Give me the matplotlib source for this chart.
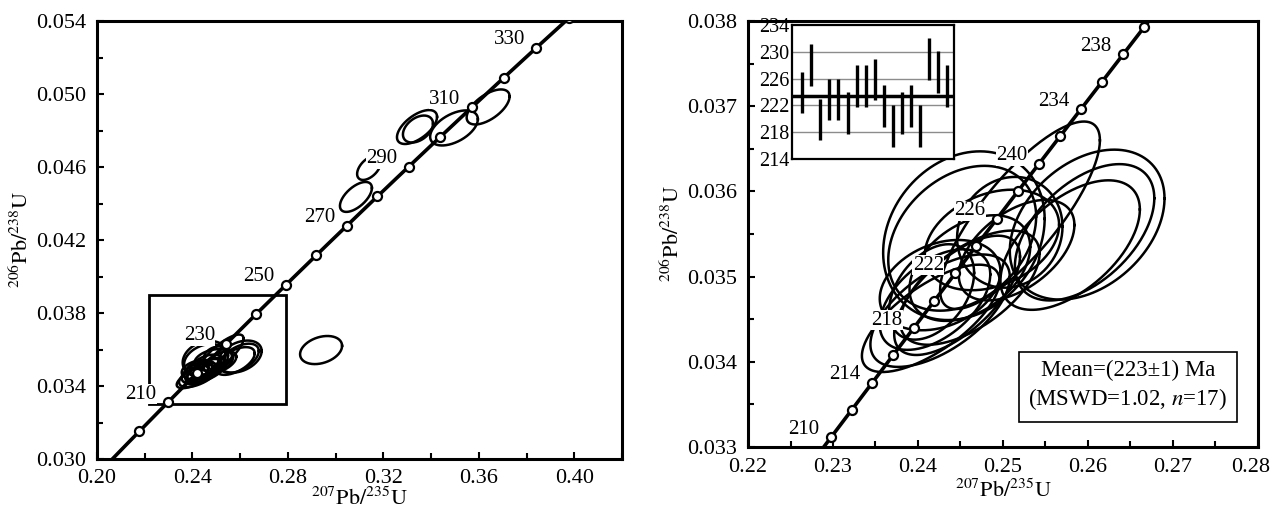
import numpy as np
import matplotlib
matplotlib.use("Agg")
import matplotlib.pyplot as plt
import matplotlib.transforms as mtransforms
from matplotlib.ticker import MultipleLocator
from matplotlib.patches import Rectangle

plt.rcParams["font.family"] = ["Liberation Serif", "DejaVu Serif"]
plt.rcParams["mathtext.fontset"] = "stix"
plt.rcParams["font.size"] = 15

# U decay constants (1/yr)
LAMBDA_238 = 1.55125e-10
LAMBDA_235 = 9.8485e-10

# zircon analyses of this study: 207Pb/235U, 206Pb/238U, half-extent x, half-extent y, rho
ell_x = [0.2454, 0.2452, 0.2599, 0.2596, 0.2579, 0.2520, 0.2508, 0.2415, 0.2426,
         0.2420, 0.2461, 0.2461, 0.2426, 0.2487, 0.2416, 0.2516, 0.2446]
ell_y = [0.03548, 0.03545, 0.03561, 0.03552, 0.03537, 0.03572, 0.03552, 0.03451, 0.03460,
         0.03473, 0.03487, 0.03510, 0.03490, 0.03543, 0.03482, 0.03531, 0.03478]
ell_sx = [0.0095, 0.0087, 0.0091, 0.0082, 0.0082, 0.0094, 0.0062, 0.0081, 0.0082,
          0.0065, 0.0082, 0.0071, 0.0071, 0.0079, 0.0050, 0.0068, 0.0074]
ell_sy = [0.00099, 0.00085, 0.00088, 0.00080, 0.00076, 0.00110, 0.00065, 0.00063, 0.00066,
          0.00059, 0.00067, 0.00062, 0.00053, 0.00059, 0.00056, 0.00059, 0.00070]
ell_rho = [0.2, 0.3, 0.35, 0.5, 0.55, 0.8, 0.1, 0.7, 0.6,
           0.5, 0.6, 0.4, 0.3, 0.3, 0.4, 0.5, 0.65]

# older / discordant grains (left panel only)
old_x = [0.2939, 0.3085, 0.3140, 0.3341, 0.3345, 0.3496, 0.3639]
old_y = [0.03597, 0.04436, 0.04595, 0.04819, 0.04808, 0.04814, 0.04929]
old_sx = [0.0088, 0.0067, 0.0050, 0.0084, 0.0063, 0.0100, 0.0090]
old_sy = [0.00077, 0.00082, 0.00066, 0.00093, 0.00074, 0.00096, 0.00096]
old_rho = [0.3, 0.6, 0.5, 0.6, 0.4, 0.5, 0.6]

# concordia age marks
left_marks = list(range(200, 350, 10))
left_label_ages = [210, 230, 250, 270, 290, 310, 330]
right_marks = list(range(208, 244, 2))
right_label_ages = [210, 214, 218, 222, 226, 230, 234, 238]
right_label_text = ["210", "214", "218", "222", "226", "240", "234", "238"]

# axis ticks
left_xticks = [0.20, 0.24, 0.28, 0.32, 0.36, 0.40]
left_yticks = [0.030, 0.034, 0.038, 0.042, 0.046, 0.050, 0.054]
right_xticks = [0.22, 0.23, 0.24, 0.25, 0.26, 0.27, 0.28]
right_yticks = [0.033, 0.034, 0.035, 0.036, 0.037, 0.038]

# zoom window drawn on the left panel
zoom_box = [0.222, 0.033, 0.279, 0.039]

# weighted mean inset: 206Pb/238U ages (Ma) and errors
wm_age = [223.9, 228.0, 219.9, 222.9, 222.9, 220.9, 224.9, 224.9, 225.9,
          221.9, 218.9, 220.9, 221.9, 218.9, 228.9, 227.0, 224.9]
wm_err = [3.1] * 17
wm_mean = 223.4
wm_ticks = [214, 218, 222, 226, 230, 234]


def concordia(t_ma):
    t = np.asarray(t_ma, dtype=float) * 1e6
    return np.exp(LAMBDA_235 * t) - 1, np.exp(LAMBDA_238 * t) - 1


def draw_ellipses(ax, xs, ys, sxs, sys_, rhos):
    th = np.linspace(0, 2 * np.pi, 240)
    for x, y, sx, sy, r in zip(xs, ys, sxs, sys_, rhos):
        ex = x + sx * np.cos(th)
        ey = y + sy * (r * np.cos(th) + np.sqrt(1 - r * r) * np.sin(th))
        ax.plot(ex, ey, color="black", lw=1.8, zorder=2)


def draw_concordia(ax, marks, label_ages, label_text):
    cx, cy = concordia(np.linspace(150, 420, 600))
    ax.plot(cx, cy, color="black", lw=2.6, zorder=4)
    mx, my = concordia(marks)
    ax.plot(mx, my, "o", ms=6.5, mfc="white", mec="black", mew=1.6, zorder=5)
    lx, ly = concordia(label_ages)
    for x, y, s in zip(lx, ly, label_text):
        ax.annotate(s, (x, y), xytext=(-27, 8), textcoords="offset pixels",
                    ha="center", va="center", fontsize=15, zorder=6,
                    bbox=dict(fc="white", ec="none", pad=0.3))


def style_axes(ax):
    for sp in ax.spines.values():
        sp.set_linewidth(2.2)
    ax.tick_params(which="both", direction="in", width=1.5, labelsize=16, pad=8)
    ax.tick_params(which="major", length=5)
    ax.tick_params(which="minor", length=4)


xlab = r"$^{207}\mathrm{Pb}/^{235}\mathrm{U}$"
ylab = r"$^{206}\mathrm{Pb}/^{238}\mathrm{U}$"

fig = plt.figure(figsize=(12.72, 5.08), dpi=100)

# ---- left panel: all analyses
ax1 = fig.add_axes([97 / 1272, 49 / 508, 525 / 1272, 438 / 508])
draw_ellipses(ax1, ell_x, ell_y, ell_sx, ell_sy, ell_rho)
draw_ellipses(ax1, old_x, old_y, old_sx, old_sy, old_rho)
draw_concordia(ax1, left_marks, left_label_ages, [str(a) for a in left_label_ages])
ax1.add_patch(Rectangle((zoom_box[0], zoom_box[1]), zoom_box[2] - zoom_box[0],
                        zoom_box[3] - zoom_box[1], fill=False, lw=2, zorder=3))
ax1.set_xlim(0.20, 0.42)
ax1.set_ylim(0.030, 0.054)
ax1.set_xticks(left_xticks)
ax1.set_yticks(left_yticks)
ax1.xaxis.set_minor_locator(MultipleLocator(0.02))
ax1.yaxis.set_minor_locator(MultipleLocator(0.002))
ax1.xaxis.set_major_formatter(plt.FormatStrFormatter("%.2f"))
ax1.yaxis.set_major_formatter(plt.FormatStrFormatter("%.3f"))
ax1.set_xlabel(xlab, fontsize=16, labelpad=0)
ax1.set_ylabel(ylab, fontsize=16, labelpad=2)
style_axes(ax1)
ax1.tick_params(axis="x", pad=7)

# ---- right panel: zoom on the 223 Ma population
ax2 = fig.add_axes([748 / 1272, 61 / 508, 510 / 1272, 426 / 508])
draw_ellipses(ax2, ell_x, ell_y, ell_sx, ell_sy, ell_rho)
draw_concordia(ax2, right_marks, right_label_ages, right_label_text)
ax2.set_xlim(0.22, 0.28)
ax2.set_ylim(0.033, 0.038)
ax2.set_xticks(right_xticks)
ax2.set_yticks(right_yticks)
ax2.xaxis.set_minor_locator(MultipleLocator(0.005))
ax2.yaxis.set_minor_locator(MultipleLocator(0.0005))
ax2.xaxis.set_major_formatter(plt.FormatStrFormatter("%.2f"))
ax2.yaxis.set_major_formatter(plt.FormatStrFormatter("%.3f"))
ax2.set_xlabel(xlab, fontsize=16, labelpad=2)
ax2.set_ylabel(ylab, fontsize=16, labelpad=2)
style_axes(ax2)
ax2.text(0.745, 0.143, "Mean=(223±1) Ma\n(MSWD=1.02, $n$=17)", transform=ax2.transAxes,
         ha="center", va="center", fontsize=16.5, linespacing=1.3, zorder=7,
         bbox=dict(fc="white", ec="black", lw=1.2, boxstyle="square,pad=0.4"))

# last x tick label sits at the figure edge: nudge it inwards a little
fig.canvas.draw()
last = ax2.get_xticklabels()[-1]
last.set_transform(last.get_transform()
                   + mtransforms.ScaledTranslation(-7 / 100, 0, fig.dpi_scale_trans))

# ---- inset: weighted mean ages
ax3 = fig.add_axes([792 / 1272, 1 - 159 / 508, 162 / 1272, 134 / 508])
pos = np.arange(1, len(wm_age) + 1)
lo = np.array(wm_age) - np.array(wm_err)
hi = np.array(wm_age) + np.array(wm_err)
for g in wm_ticks[1:-1]:
    ax3.axhline(g, color="#8c8c8c", lw=1.0, zorder=1)
ax3.axhline(wm_mean, color="black", lw=2.5, zorder=2)
ax3.vlines(pos, lo, hi, color="black", lw=2.4, zorder=3)
ax3.set_xlim(-0.15, 17.8)
ax3.set_ylim(214, 234)
ax3.set_yticks(wm_ticks)
ax3.set_xticks([])
ax3.tick_params(axis="y", length=0, labelsize=14.5, pad=2)
for sp in ax3.spines.values():
    sp.set_linewidth(1.6)

fig.savefig("out.png", dpi=100)
